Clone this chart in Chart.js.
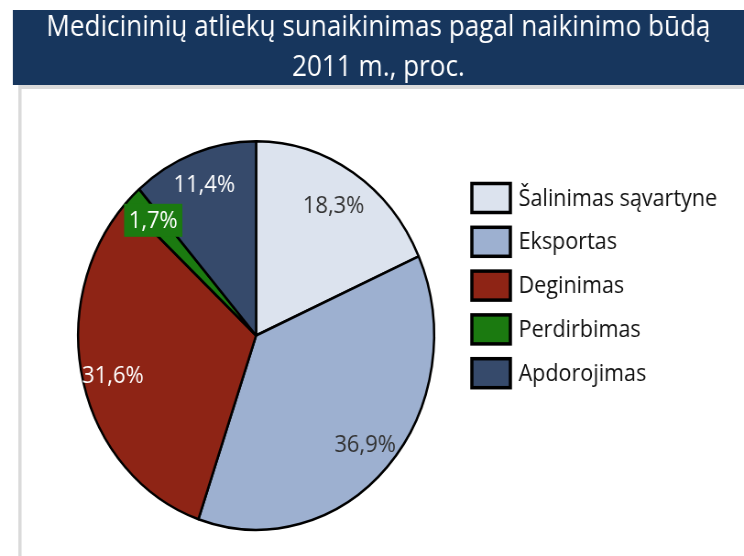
<!DOCTYPE html>
<html>
<head>
<meta charset="utf-8">
<script src="https://cdn.jsdelivr.net/npm/chart.js@4/dist/chart.umd.min.js"></script>
<style>
  html, body { margin: 0; padding: 0; background: #fff; overflow: hidden; }
  #wrap { width: 812px; height: 556px; transform: scaleX(0.916256); transform-origin: 0 0; }
</style>
</head>
<body>
<div id="wrap"><canvas id="c" width="812" height="556"></canvas></div>
<script>
const titleLines = ["Medicininių atliekų sunaikinimas pagal naikinimo būdą", "2011 m., proc."];
const categories = ["Šalinimas sąvartyne", "Eksportas", "Deginimas", "Perdirbimas", "Apdorojimas"];
const shares = [18.3, 36.9, 31.6, 1.7, 11.4];
const sliceColors = ["#dce3ee", "#9db0d0", "#8e2415", "#1b7a10", "#364a6b"];
const labelColors = ["#333333", "#333333", "#ffffff", "#ffffff", "#ffffff"];

const FONT = "'Open Sans', 'DejaVu Sans', sans-serif";

const framePlugin = {
  id: 'frame',
  beforeDraw(chart) {
    const ctx = chart.ctx;
    const W = chart.width, H = chart.height;
    ctx.save();
    ctx.fillStyle = '#ffffff';
    ctx.fillRect(0, 0, W, H);
    // banner
    ctx.fillStyle = '#17365d';
    ctx.fillRect(14, 10, W - 14, 75);
    // grey frame lines
    ctx.fillStyle = '#dadada';
    ctx.fillRect(20, 85, W - 20, 4);
    ctx.fillRect(20, 85, 3.5, H - 85);
    // title
    ctx.fillStyle = '#ffffff';
    ctx.textAlign = 'center';
    ctx.textBaseline = 'middle';
    ctx.font = "28.5px " + FONT;
    const cx = (14 + W) / 2;
    ctx.fillText(titleLines[0], cx, 28);
    ctx.fillText(titleLines[1], cx, 68);
    ctx.restore();
  },
  afterDatasetsDraw(chart) {
    const ctx = chart.ctx;
    const meta = chart.getDatasetMeta(0);
    ctx.save();
    // slice labels
    ctx.font = "24px " + FONT;
    ctx.textAlign = 'center';
    ctx.textBaseline = 'middle';
    meta.data.forEach((arc, i) => {
      const p = arc.getProps(['x', 'y', 'startAngle', 'endAngle', 'outerRadius'], true);
      const mid = (p.startAngle + p.endAngle) / 2;
      const rr = p.outerRadius * (i === 0 ? 0.80 : 0.83);
      const x = p.x + Math.cos(mid) * rr;
      const y = p.y + Math.sin(mid) * rr;
      const txt = shares[i].toFixed(1).replace('.', ',') + '%';
      if (i === 3) {
        const w = ctx.measureText(txt).width + 10;
        ctx.fillStyle = sliceColors[3];
        ctx.fillRect(x - w / 2, y - 16, w, 33);
      }
      ctx.fillStyle = labelColors[i];
      ctx.fillText(txt, x, y + 1);
    });
    // legend
    const bx = 515, bw = 42, bh = 29, tx = 566;
    ctx.font = "23.5px " + FONT;
    ctx.textAlign = 'left';
    categories.forEach((name, i) => {
      const cy = 198 + i * 43.8;
      ctx.fillStyle = sliceColors[i];
      ctx.fillRect(bx, cy - bh / 2, bw, bh);
      ctx.lineWidth = 3.5;
      ctx.strokeStyle = '#000000';
      ctx.strokeRect(bx, cy - bh / 2, bw, bh);
      ctx.fillStyle = '#111111';
      ctx.fillText(name, tx, cy + 1);
    });
    ctx.restore();
  }
};

new Chart(document.getElementById('c'), {
  type: 'pie',
  data: {
    labels: categories,
    datasets: [{
      data: shares,
      backgroundColor: sliceColors,
      borderColor: '#000000',
      borderWidth: 2.5
    }]
  },
  options: {
    responsive: false,
    animation: false,
    devicePixelRatio: 1,
    layout: { padding: { left: 84, top: 140, right: 337, bottom: 25 } },
    plugins: {
      legend: { display: false },
      title: { display: false },
      tooltip: { enabled: false }
    }
  },
  plugins: [framePlugin]
});
</script>
</body>
</html>
